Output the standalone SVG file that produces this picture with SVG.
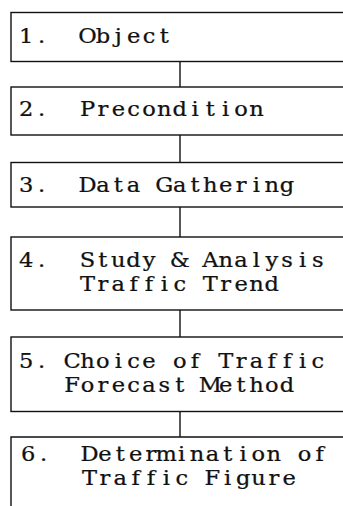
<svg xmlns="http://www.w3.org/2000/svg" width="343" height="506" viewBox="0 0 343 506">
  <style>
    .box { fill: none; stroke: #111; stroke-width: 1.4; }
    .link { fill: none; stroke: #111; stroke-width: 1.4; }
    /* typewriter look: every glyph centred in a fixed cell, slightly widened */
    .lbl { font-family: "DejaVu Serif", "Liberation Serif", serif; font-size: 20.5px; text-anchor: middle; fill: #111; stroke: #111; stroke-width: 0.25; }
  </style>
  <rect x="0" y="0" width="343" height="506" fill="#fff"/>

  <!-- vertical connectors between the steps -->
  <g id="connectors">
    <line class="link" x1="180" y1="61.5" x2="180" y2="87"/>
    <line class="link" x1="180" y1="135" x2="180" y2="162.5"/>
    <line class="link" x1="180" y1="207" x2="180" y2="237"/>
    <line class="link" x1="180" y1="310" x2="180" y2="337"/>
    <line class="link" x1="180" y1="411.5" x2="180" y2="437"/>
  </g>

  <g id="step1">
    <rect class="box" x="11" y="12.5" width="345" height="49"/>
    <g transform="scale(1.1 1)">
      <text class="lbl" x="23.82 37.73" y="43">1.</text>
      <text class="lbl" x="79.64 93.55 107.55 121.45 135.45 149.36 163.36 177.27 191.27 205.18 219.18 233.09 247.09 261 275 288.91" y="43">Object</text>
    </g>
  </g>

  <g id="step2">
    <rect class="box" x="11" y="87" width="345" height="48"/>
    <g transform="scale(1.1 1)">
      <text class="lbl" x="23.82 37.73" y="116.5">2.</text>
      <text class="lbl" x="79.64 93.55 107.55 121.45 135.45 149.36 163.36 177.27 191.27 205.18 219.18 233.09 247.09 261 275 288.91" y="116.5">Precondition</text>
    </g>
  </g>

  <g id="step3">
    <rect class="box" x="11" y="162.5" width="345" height="44.5"/>
    <g transform="scale(1.1 1)">
      <text class="lbl" x="23.82 37.73" y="192">3.</text>
      <text class="lbl" x="79.64 93.55 107.55 121.45 135.45 149.36 163.36 177.27 191.27 205.18 219.18 233.09 247.09 261 275 288.91" y="192">Data Gathering</text>
    </g>
  </g>

  <g id="step4">
    <rect class="box" x="11" y="237" width="345" height="73"/>
    <g transform="scale(1.1 1)">
      <text class="lbl" x="23.82 37.73" y="267">4.</text>
      <text class="lbl" x="79.64 93.55 107.55 121.45 135.45 149.36 163.36 177.27 191.27 205.18 219.18 233.09 247.09 261 275 288.91" y="267">Study &amp; Analysis</text>
      <text class="lbl" x="79.64 93.55 107.55 121.45 135.45 149.36 163.36 177.27 191.27 205.18 219.18 233.09 247.09 261 275 288.91" y="291">Traffic Trend</text>
    </g>
  </g>

  <g id="step5">
    <rect class="box" x="11" y="337" width="345" height="74.5"/>
    <g transform="scale(1.1 1)">
      <text class="lbl" x="23.82 37.73" y="368">5.</text>
      <text class="lbl" x="65.64 79.64 93.55 107.55 121.45 135.45 149.36 163.36 177.27 191.27 205.18 219.18 233.09 247.09 261 275 288.91" y="368">Choice of Traffic</text>
      <text class="lbl" x="65.64 79.64 93.55 107.55 121.45 135.45 149.36 163.36 177.27 191.27 205.18 219.18 233.09 247.09 261 275 288.91" y="392">Forecast Method</text>
    </g>
  </g>

  <g id="step6">
    <path class="box" d="M11 506 V437 H356"/>
    <g transform="translate(2 0) scale(1.1 1)">
      <text class="lbl" x="23.82 37.73" y="461">6.</text>
      <text class="lbl" x="79.64 93.55 107.55 121.45 135.45 149.36 163.36 177.27 191.27 205.18 219.18 233.09 247.09 261 275 288.91" y="461">Determination of</text>
      <text class="lbl" x="79.64 93.55 107.55 121.45 135.45 149.36 163.36 177.27 191.27 205.18 219.18 233.09 247.09 261 275 288.91" y="485">Traffic Figure</text>
    </g>
  </g>
</svg>
